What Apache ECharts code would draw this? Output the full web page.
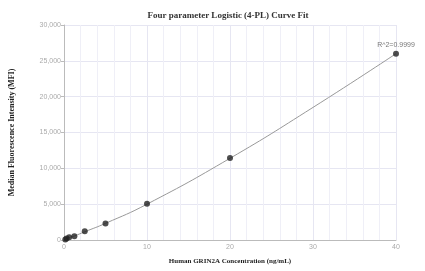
<!DOCTYPE html>
<html>
<head>
<meta charset="utf-8">
<script src="https://cdn.jsdelivr.net/npm/echarts@6/dist/echarts.min.js"></script>
<style>
  html, body { margin: 0; padding: 0; background: #fff; }
  #chart { width: 425px; height: 271px; }
</style>
</head>
<body>
<div id="chart"></div>
<script>
// standard concentrations (ng/mL) and measured MFI
const concentrations = [0.156, 0.3125, 0.625, 1.25, 2.5, 5, 10, 20, 40];
const mfiValues = [70, 200, 390, 530, 1230, 2300, 5050, 11450, 26000];
// fitted curve
const fitX = [0, 0.625, 1.25, 2.5, 5, 10, 20, 30, 40];
const fitY = [40, 330, 560, 1150, 2320, 5000, 11400, 18500, 26000];
const r2Label = 'R^2=0.9999';

const chart = echarts.init(document.getElementById('chart'));
const serif = '"Liberation Serif", "DejaVu Serif", serif';

const points = concentrations.map((c, i) => {
  const item = { value: [c, mfiValues[i]] };
  if (i === concentrations.length - 1) {
    item.label = {
      show: true,
      position: 'top',
      formatter: r2Label,
      color: '#555',
      fontSize: 7,
      fontFamily: 'Arial, sans-serif',
      distance: 2
    };
  }
  return item;
});

chart.setOption({
  animation: false,
  title: {
    text: 'Four parameter Logistic (4-PL) Curve Fit',
    left: 223,
    top: 6,
    textAlign: 'center',
    textStyle: { fontFamily: serif, fontSize: 9, fontWeight: 'bold', color: '#333' }
  },
  grid: { left: 60, right: 29, top: 25, bottom: 31 },
  xAxis: {
    type: 'value',
    min: 0,
    max: 40,
    interval: 10,
    name: 'Human GRIN2A Concentration (ng/mL)',
    nameLocation: 'middle',
    nameGap: 18,
    nameTextStyle: { fontFamily: serif, fontSize: 7, fontWeight: 'bold', color: '#222' },
    axisLine: { lineStyle: { color: '#bbb' } },
    axisTick: { show: false },
    axisLabel: { color: '#aaa', fontSize: 7, margin: 4 },
    splitLine: { show: true, lineStyle: { color: '#e6e6f2' } },
    minorTick: { show: false, splitNumber: 5 },
    minorSplitLine: { show: true, lineStyle: { color: '#efeff7' } }
  },
  yAxis: {
    type: 'value',
    min: 0,
    max: 30000,
    interval: 5000,
    name: 'Median Fluorescence Intensity (MFI)',
    nameLocation: 'middle',
    nameGap: 48,
    nameTextStyle: { fontFamily: serif, fontSize: 8, fontWeight: 'bold', color: '#222' },
    axisLine: { show: true, lineStyle: { color: '#bbb' } },
    axisTick: { show: true, length: 3, lineStyle: { color: '#bbb' } },
    axisLabel: {
      color: '#aaa',
      fontSize: 7,
      margin: 3,
      formatter: v => v.toLocaleString('en-US')
    },
    splitLine: { show: true, lineStyle: { color: '#e6e6f2' } }
  },
  series: [
    {
      type: 'line',
      data: fitX.map((x, i) => [x, fitY[i]]),
      smooth: true,
      showSymbol: false,
      lineStyle: { color: '#999', width: 1 },
      z: 1
    },
    {
      type: 'scatter',
      data: points,
      symbolSize: 6,
      itemStyle: { color: '#222' },
      z: 2
    }
  ]
});

window.addEventListener('resize', () => chart.resize());
</script>
</body>
</html>
